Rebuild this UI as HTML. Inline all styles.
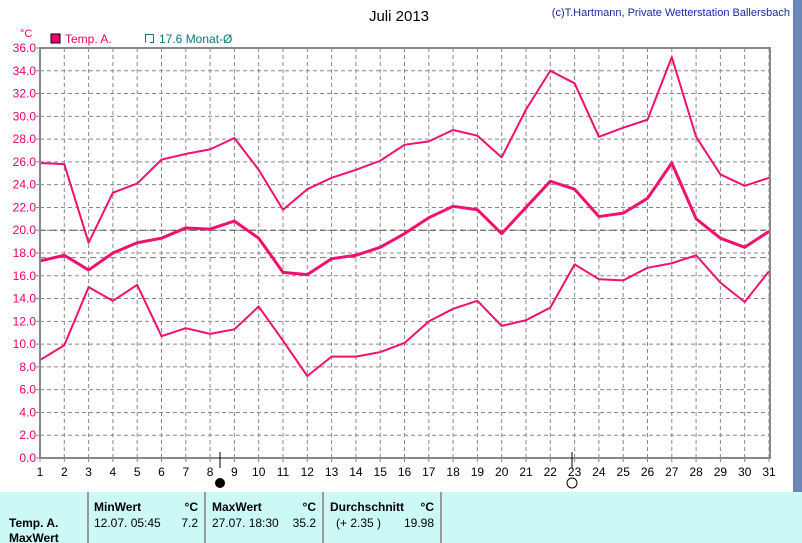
<!DOCTYPE html><html><head><meta charset="utf-8"><style>
body{margin:0;width:802px;height:543px;background:#fff;overflow:hidden;font-family:"Liberation Sans",sans-serif;position:relative}
.t{position:absolute;white-space:nowrap}
</style></head><body>
<svg width="802" height="543" style="position:absolute;left:0;top:0" font-family="Liberation Sans, sans-serif">
<rect x="793" y="0" width="9" height="492" fill="#6b86b8"/>
<text x="399" y="21" font-size="15" text-anchor="middle" fill="#000">Juli 2013</text>
<text x="790" y="16" font-size="11" text-anchor="end" fill="#1a2aa8">(c)T.Hartmann, Private Wetterstation Ballersbach</text>
<text x="20" y="37" font-size="11" fill="#e8006c">°C</text>
<rect x="51" y="34" width="9" height="9" fill="#f0006e" stroke="#000"/>
<text x="65" y="43" font-size="12" fill="#e8006c">Temp. A.</text>
<path d="M145.5 42.5V34.5H153.5M153.5 34.5V42.5H150" stroke="#007a7a" fill="none"/>
<text x="159" y="43" font-size="12" fill="#007a7a">17.6 Monat-Ø</text>
<g id="grid" stroke="#888" stroke-dasharray="4,3" stroke-width="1"></g>
<g id="lbl" font-size="12"></g>
<line x1="40" y1="230.2" x2="770" y2="230.2" stroke="#555" stroke-dasharray="6,4"/>
<line x1="40" y1="257.6" x2="770" y2="257.6" stroke="#777" stroke-dasharray="6,4"/>
<g id="ser" fill="none" stroke="#f0106e" stroke-linejoin="round"></g>
<rect x="40" y="48" width="730" height="410" fill="none" stroke="#888" stroke-width="2"/>
<line x1="220" y1="452" x2="220" y2="468" stroke="#000"/>
<circle cx="220" cy="483" r="5" fill="#000"/>
<line x1="572" y1="452" x2="572" y2="468" stroke="#000"/>
<circle cx="572" cy="483" r="5" fill="#fff" stroke="#000"/>
<rect x="0" y="492" width="802" height="51" fill="#ccf8f6"/>
<g stroke="#999" stroke-width="2"><line x1="88" y1="492" x2="88" y2="543"/><line x1="205" y1="492" x2="205" y2="543"/><line x1="323" y1="492" x2="323" y2="543"/><line x1="441" y1="492" x2="441" y2="543"/></g>
<g font-size="12" fill="#000">
<text x="94" y="511" font-weight="bold">MinWert</text><text x="198" y="511" font-weight="bold" text-anchor="end">°C</text>
<text x="94" y="527">12.07.  05:45</text><text x="198" y="527" text-anchor="end">7.2</text>
<text x="212" y="511" font-weight="bold">MaxWert</text><text x="316" y="511" font-weight="bold" text-anchor="end">°C</text>
<text x="212" y="527">27.07.  18:30</text><text x="316" y="527" text-anchor="end">35.2</text>
<text x="330" y="511" font-weight="bold">Durchschnitt</text><text x="434" y="511" font-weight="bold" text-anchor="end">°C</text>
<text x="336" y="527">(+ 2.35 )</text><text x="434" y="527" text-anchor="end">19.98</text>
<text x="9" y="527" font-weight="bold">Temp. A.</text>
<text x="9" y="542" font-weight="bold">MaxWert</text>
</g>
</svg>
<script>
var ns="http://www.w3.org/2000/svg";
function X(d){return 40+(d-1)*729/30}function Y(v){return 458-v*410/36}
var g=document.getElementById('grid'),l=document.getElementById('lbl');
function el(p,t,a,txt){var e=document.createElementNS(ns,t);for(var k in a)e.setAttribute(k,a[k]);if(txt)e.textContent=txt;p.appendChild(e);}
for(var d=2;d<=31;d++)el(g,'line',{x1:X(d),y1:48,x2:X(d),y2:458});
for(var v=2;v<36;v+=2)el(g,'line',{x1:40,y1:Y(v),x2:770,y2:Y(v)});
for(var v=0;v<=36;v+=2){el(l,'text',{x:36,y:Y(v)+4,'text-anchor':'end',fill:'#e8006c'},v.toFixed(1));el(l,'line',{x1:36,y1:Y(v),x2:40,y2:Y(v),stroke:'#888'});}
for(var d=1;d<=31;d++){el(l,'text',{x:X(d),y:476,'text-anchor':'middle',fill:'#000'},''+d);el(l,'line',{x1:X(d),y1:458,x2:X(d),y2:462,stroke:'#888'});}
var mx=[25.9,25.8,18.9,23.3,24.1,26.2,26.7,27.1,28.1,25.3,21.8,23.6,24.6,25.3,26.1,27.5,27.8,28.8,28.3,26.4,30.6,34.0,32.9,28.2,29.0,29.7,35.2,28.2,24.9,23.9,24.6];
var me=[17.3,17.8,16.5,18.0,18.9,19.3,20.2,20.1,20.8,19.3,16.3,16.1,17.5,17.8,18.5,19.7,21.1,22.1,21.8,19.7,22.0,24.3,23.6,21.2,21.5,22.8,25.9,21.0,19.3,18.5,19.9];
var mn=[8.6,9.9,15.0,13.8,15.2,10.7,11.4,10.9,11.3,13.3,10.3,7.2,8.9,8.9,9.3,10.1,12.0,13.1,13.8,11.6,12.1,13.2,17.0,15.7,15.6,16.7,17.1,17.8,15.4,13.7,16.4];
var s=document.getElementById('ser');
[[mx,2],[me,3],[mn,2]].forEach(function(a){el(s,'polyline',{points:a[0].map(function(v,i){return X(i+1)+','+Y(v)}).join(' '),'stroke-width':a[1]});});
</script>
</body></html>
